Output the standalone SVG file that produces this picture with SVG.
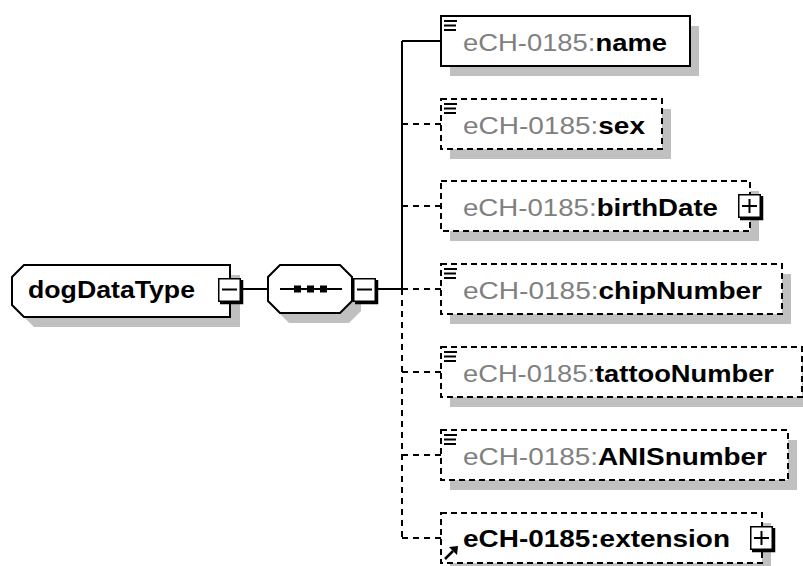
<svg xmlns="http://www.w3.org/2000/svg" width="803" height="566" viewBox="0 0 803 566">
<style>
.bg{fill:#fff}
.shadow{fill:#c0c0c0}
.box{fill:#fff;stroke:#000;stroke-width:2}
.dash{stroke-dasharray:6 4}
.conn{fill:none;stroke:#000;stroke-width:2}
.cdash{stroke-dasharray:6 5}
.lbl{font-family:"Liberation Sans",Arial,sans-serif;font-size:24px;font-weight:bold}
.pfx{fill:#808080;font-weight:normal}
.nm{fill:#000}
.btn{fill:#fff;stroke:#000;stroke-width:1.5}
.btnsh{fill:none;stroke:#000;stroke-width:2.5}
.sym{fill:none;stroke:#000;stroke-width:2}
.icon{fill:none;stroke:#000;stroke-width:2}
</style>
<rect class="bg" x="0" y="0" width="803" height="566"/>
<g id="connectors">
  <path class="conn" d="M243,289 H268"/>
  <path class="conn" d="M377,289 H402"/>
  <path class="conn" d="M402,41 V289"/>
  <path class="conn cdash" d="M402,289 V538"/>
  <path class="conn" d="M402,41 H441"/>
  <path class="conn cdash" d="M402,124 H441"/>
  <path class="conn cdash" d="M402,206 H441"/>
  <path class="conn cdash" d="M402,289 H441"/>
  <path class="conn cdash" d="M402,372 H441"/>
  <path class="conn cdash" d="M402,455 H441"/>
  <path class="conn cdash" d="M402,538 H441"/>
</g>
<g id="dogDataType">
  <polygon class="shadow" points="34,275 240,275 240,327 34,327 22,315 22,287"/>
  <polygon class="box" points="24,265 230,265 230,317 24,317 12,305 12,277"/>
  <text class="lbl nm" x="28" y="298" textLength="167" lengthAdjust="spacingAndGlyphs">dogDataType</text>
  <rect class="btn" x="218.75" y="278.75" width="21.5" height="22.5"/>
  <path class="btnsh" d="M242,280 V303 H220"/>
  <path class="sym" d="M222,289.5 H237"/>
</g>
<g id="sequence">
  <polygon class="shadow" points="289,275 349,275 361,287 361,311 349,323 289,323 277,311 277,287"/>
  <polygon class="box" points="280,265 340,265 352,277 352,301 340,313 280,313 268,301 268,277"/>
  <path class="sym" d="M280,289 H342"/>
  <rect x="294" y="285.5" width="7" height="7" fill="#000"/>
  <rect x="307" y="285.5" width="7" height="7" fill="#000"/>
  <rect x="320" y="285.5" width="7" height="7" fill="#000"/>
  <rect class="btn" x="353.75" y="278.75" width="21.5" height="22.5"/>
  <path class="btnsh" d="M377,280 V303 H355"/>
  <path class="sym" d="M357,289.5 H372"/>
</g>
<g id="name">
  <rect class="shadow" x="450" y="26" width="249" height="50"/>
  <rect class="box" x="441" y="16" width="249" height="50"/>
  <path class="icon" d="M444,21 H457 M444,25.5 H456 M444,30 H456"/>
  <text class="lbl" x="463" y="51" textLength="204" lengthAdjust="spacingAndGlyphs"><tspan class="pfx">eCH-0185:</tspan><tspan class="nm">name</tspan></text>
</g>
<g id="sex">
  <rect class="shadow" x="450" y="109" width="221" height="50"/>
  <rect class="box dash" x="441" y="99" width="221" height="50"/>
  <path class="icon" d="M444,104 H457 M444,108.5 H456 M444,113 H456"/>
  <text class="lbl" x="463" y="134" textLength="182" lengthAdjust="spacingAndGlyphs"><tspan class="pfx">eCH-0185:</tspan><tspan class="nm">sex</tspan></text>
</g>
<g id="birthDate">
  <rect class="shadow" x="450" y="191" width="309" height="50"/>
  <rect class="box dash" x="441" y="181" width="309" height="50"/>
  <text class="lbl" x="463" y="216" textLength="255" lengthAdjust="spacingAndGlyphs"><tspan class="pfx">eCH-0185:</tspan><tspan class="nm">birthDate</tspan></text>
  <rect class="btn" x="738.75" y="194.75" width="21.5" height="22.5"/>
  <path class="btnsh" d="M762,196 V219 H740"/>
  <path class="sym" d="M742,206 H757 M749.5,199 V213"/>
</g>
<g id="chipNumber">
  <rect class="shadow" x="450" y="274" width="341" height="50"/>
  <rect class="box dash" x="441" y="264" width="341" height="50"/>
  <path class="icon" d="M444,269 H457 M444,273.5 H456 M444,278 H456"/>
  <text class="lbl" x="463" y="299" textLength="299" lengthAdjust="spacingAndGlyphs"><tspan class="pfx">eCH-0185:</tspan><tspan class="nm">chipNumber</tspan></text>
</g>
<g id="tattooNumber">
  <rect class="shadow" x="450" y="357" width="361" height="50"/>
  <rect class="box dash" x="441" y="347" width="361" height="50"/>
  <path class="icon" d="M444,352 H457 M444,356.5 H456 M444,361 H456"/>
  <text class="lbl" x="463" y="382" textLength="311" lengthAdjust="spacingAndGlyphs"><tspan class="pfx">eCH-0185:</tspan><tspan class="nm">tattooNumber</tspan></text>
</g>
<g id="ANISnumber">
  <rect class="shadow" x="450" y="440" width="347" height="50"/>
  <rect class="box dash" x="441" y="430" width="347" height="50"/>
  <path class="icon" d="M444,435 H457 M444,439.5 H456 M444,444 H456"/>
  <text class="lbl" x="463" y="465" textLength="304" lengthAdjust="spacingAndGlyphs"><tspan class="pfx">eCH-0185:</tspan><tspan class="nm">ANISnumber</tspan></text>
</g>
<g id="extension">
  <rect class="shadow" x="450" y="523" width="321" height="50"/>
  <rect class="box dash" x="441" y="513" width="321" height="50"/>
  <text class="lbl nm" x="463" y="547" textLength="267" lengthAdjust="spacingAndGlyphs">eCH-0185:extension</text>
  <path d="M445,559 L453,551" stroke="#000" stroke-width="2.5" fill="none"/>
  <polygon points="458,546 449,547 457,555" fill="#000"/>
  <rect class="btn" x="750.75" y="526.75" width="21.5" height="22.5"/>
  <path class="btnsh" d="M774,528 V551 H752"/>
  <path class="sym" d="M754,538 H769 M761.5,531 V545"/>
</g>
</svg>
